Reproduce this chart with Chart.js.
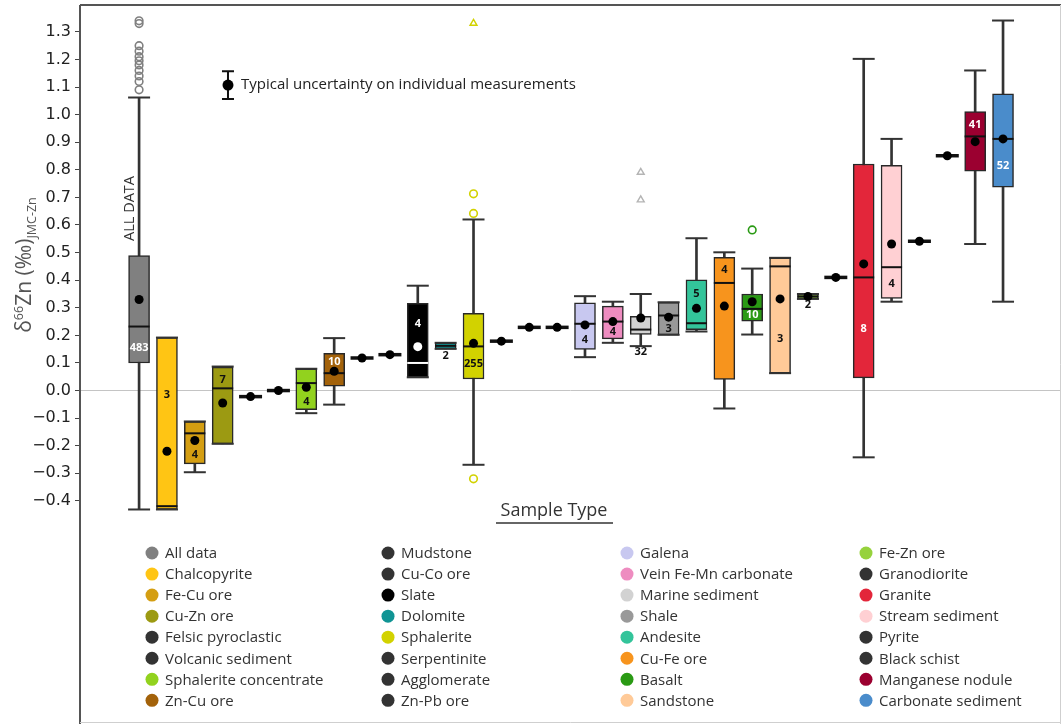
<!DOCTYPE html>
<html>
<head>
<meta charset="utf-8">
<script src="https://cdn.jsdelivr.net/npm/chart.js@4.4.1/dist/chart.umd.min.js"></script>
<style>
  html, body { margin: 0; padding: 0; background: #fff; overflow: hidden; }
  #wrap { width: 1062px; height: 724px; }
  canvas { display: block; }
</style>
</head>
<body>
<div id="wrap"><canvas id="zincChart" width="1062" height="724"></canvas></div>
<script>
// categories, in plotting (and legend) order
const categories = ['All data', 'Chalcopyrite', 'Fe-Cu ore', 'Cu-Zn ore', 'Felsic pyroclastic',
    'Volcanic sediment', 'Sphalerite concentrate', 'Zn-Cu ore', 'Mudstone', 'Cu-Co ore', 'Slate',
    'Dolomite', 'Sphalerite', 'Serpentinite', 'Agglomerate', 'Zn-Pb ore', 'Galena',
    'Vein Fe-Mn carbonate', 'Marine sediment', 'Shale', 'Andesite', 'Cu-Fe ore', 'Basalt',
    'Sandstone', 'Fe-Zn ore', 'Granodiorite', 'Granite', 'Stream sediment', 'Pyrite',
    'Black schist', 'Manganese nodule', 'Carbonate sediment'];

const colors = ['#808080', '#FFC514', '#D49E12', '#9C9A12', '#333333', '#333333', '#92D21E',
    '#A3620A', '#333333', '#333333', '#000000', '#109494', '#D2D200', '#333333', '#333333',
    '#333333', '#C8C8F0', '#EE8CC0', '#D2D2D2', '#999999', '#33C49A', '#F7941D', '#2A9A14',
    '#FFCA98', '#96D23C', '#333333', '#E3263A', '#FFD0D3', '#333333', '#333333', '#9B0030',
    '#4A8CCB'];

// box statistics (null = single measurement, no box)
const q1 = [0.100, -0.431, -0.266, -0.193, null, null, -0.069, 0.016, null, null, 0.048, 0.151,
    0.042, null, null, null, 0.149, 0.187, 0.203, 0.202, 0.221, 0.040, 0.251, 0.063, 0.332, null,
    0.046, 0.334, null, null, 0.795, 0.737];
const q3 = [0.489, 0.192, -0.112, 0.085, null, null, 0.079, 0.135, null, null, 0.316, 0.173,
    0.280, null, null, null, 0.318, 0.306, 0.269, 0.320, 0.401, 0.483, 0.350, 0.481, 0.350, null,
    0.821, 0.816, null, null, 1.011, 1.075];
const median = [0.232, -0.419, -0.155, 0.008, -0.022, 0.000, 0.027, 0.063, 0.118, 0.130, 0.100,
    0.162, 0.160, 0.179, 0.229, 0.229, 0.242, 0.250, 0.221, 0.272, 0.244, 0.390, 0.296, 0.450,
    0.341, 0.410, 0.410, 0.447, 0.541, 0.851, 0.921, 0.912];
const mean = [0.330, -0.220, -0.181, -0.045, -0.022, 0.000, 0.012, 0.070, 0.118, 0.130, 0.159,
    null, 0.171, 0.179, 0.229, 0.229, 0.238, 0.250, 0.263, 0.266, 0.298, 0.306, 0.322, 0.332,
    0.341, 0.410, 0.459, 0.531, 0.541, 0.851, 0.902, 0.912];
const whiskerLow = [-0.431, -0.431, -0.296, -0.193, null, null, -0.082, -0.051, null, null, 0.048,
    0.151, -0.269, null, null, null, 0.121, 0.173, 0.161, 0.202, 0.214, -0.065, 0.203, 0.063,
    0.332, null, -0.242, 0.322, null, null, 0.531, 0.322];
const whiskerHigh = [1.062, 0.192, -0.112, 0.087, null, null, 0.079, 0.190, null, null, 0.380,
    0.173, 0.620, null, null, null, 0.342, 0.322, 0.350, 0.320, 0.552, 0.501, 0.442, 0.481,
    0.350, null, 1.202, 0.912, null, null, 1.160, 1.341];

// number of samples and where the number is written
const counts = [483, 3, 4, 7, null, null, 4, 10, null, null, 4, 2, 255, null, null, null, 4, 4, 32,
    3, 5, 4, 10, 3, 2, null, 8, 4, null, null, 41, 52];
const countAt = [0.156, -0.015, -0.232, 0.040, null, null, -0.040, 0.105, null, null, 0.242, 0.126,
    0.097, null, null, null, 0.184, 0.211, 0.139, 0.224, 0.350, 0.437, 0.274, 0.187, 0.310, null,
    0.224, 0.386, null, null, 0.962, 0.813];

// outliers (category index / value)
const circleCat = [0, 0, 0, 0, 0, 0, 0, 0, 0, 0, 0, 12, 12, 12, 22];
const circleVal = [1.340, 1.330, 1.250, 1.230, 1.210, 1.195, 1.180, 1.160, 1.140, 1.120, 1.090,
    0.713, 0.642, -0.320, 0.582];
const triangleCat = [12, 18, 18];
const triangleVal = [1.331, 0.791, 0.691];

// typical uncertainty marker
const uncX = 3.19;
const uncY = 1.107;
const uncErr = 0.05;

const yTicks = [-0.4, -0.3, -0.2, -0.1, 0, 0.1, 0.2, 0.3, 0.4, 0.5, 0.6, 0.7, 0.8, 0.9, 1.0, 1.1,
    1.2, 1.3];

const idx = categories.map((c, i) => i);
const has = arr => idx.filter(i => arr[i] !== null);

function isDark(hex) {
    const r = parseInt(hex.substr(1, 2), 16), g = parseInt(hex.substr(3, 2), 16), b = parseInt(hex.substr(5, 2), 16);
    return (0.299 * r + 0.587 * g + 0.114 * b) / 255 < 0.52;
}
const colorOf = ctx => (ctx.raw ? colors[ctx.raw.x] : '#888');

// frame, axis title, annotations and legend
const extras = {
    id: 'extras',
    afterDatasetsDraw(chart) {
        const c = chart.ctx, xs = chart.scales.x, ys = chart.scales.y;
        c.save();
        c.textAlign = 'center';
        c.textBaseline = 'middle';
        c.font = 'bold 11px "Open Sans"';
        idx.forEach(i => {
            if (counts[i] === null) return;
            const inside = q1[i] !== null && countAt[i] > q1[i] && countAt[i] < q3[i];
            c.fillStyle = inside && isDark(colors[i]) ? '#fff' : '#111';
            c.fillText(String(counts[i]), xs.getPixelForValue(i), ys.getPixelForValue(countAt[i]));
        });

        // uncertainty bar
        const ux = xs.getPixelForValue(uncX);
        const yt = ys.getPixelForValue(uncY + uncErr), yb = ys.getPixelForValue(uncY - uncErr);
        c.strokeStyle = '#111';
        c.lineWidth = 2;
        c.beginPath();
        c.moveTo(ux, yt); c.lineTo(ux, yb);
        c.moveTo(ux - 6, yt); c.lineTo(ux + 6, yt);
        c.moveTo(ux - 6, yb); c.lineTo(ux + 6, yb);
        c.stroke();
        c.fillStyle = '#000';
        c.beginPath();
        c.arc(ux, ys.getPixelForValue(uncY), 5.5, 0, Math.PI * 2);
        c.fill();
        c.fillStyle = '#222';
        c.textAlign = 'left';
        c.font = '15px "Open Sans"';
        c.fillText('Typical uncertainty on individual measurements', ux + 13, ys.getPixelForValue(uncY));

        // ALL DATA label
        c.save();
        c.translate(xs.getPixelForValue(0) - 9, ys.getPixelForValue(0.66));
        c.rotate(-Math.PI / 2);
        c.textAlign = 'center';
        c.fillStyle = '#333';
        c.font = '14.5px "Open Sans"';
        c.fillText('ALL DATA', 0, 0);
        c.restore();
        c.restore();
    },
    afterDraw(chart) {
        const c = chart.ctx, a = chart.chartArea;
        c.save();
        // frame
        c.lineWidth = 2;
        c.strokeStyle = '#555';
        c.beginPath();
        c.moveTo(a.left, 5); c.lineTo(a.right, 5);
        c.moveTo(a.left, 5); c.lineTo(a.left, chart.height);
        c.stroke();
        c.lineWidth = 1;
        c.strokeStyle = '#cfcfcf';
        c.beginPath();
        c.moveTo(a.right - 0.5, 5); c.lineTo(a.right - 0.5, chart.height);
        c.moveTo(a.left, chart.height - 1.5); c.lineTo(a.right, chart.height - 1.5);
        c.stroke();

        // y axis title: δ66Zn (‰) JMC-Zn
        c.save();
        c.translate(31, 265);
        c.rotate(-Math.PI / 2);
        c.fillStyle = '#555';
        c.textBaseline = 'alphabetic';
        c.textAlign = 'left';
        const big = '21px "Open Sans"', small = '12.5px "Open Sans"';
        c.font = big; const w1 = c.measureText('δ').width, w3 = c.measureText('Zn (‰)').width;
        c.font = small; const w2 = c.measureText('66').width, w4 = c.measureText('JMC-Zn').width;
        let tx = -(w1 + w2 + w3 + w4) / 2;
        c.font = big; c.fillText('δ', tx, 0); tx += w1;
        c.font = small; c.fillText('66', tx, -8); tx += w2;
        c.font = big; c.fillText('Zn (‰)', tx, 0); tx += w3;
        c.font = small; c.fillText('JMC-Zn', tx, 5);
        c.restore();

        // x axis title
        c.fillStyle = '#333';
        c.font = '18px "Open Sans"';
        c.textAlign = 'center';
        c.textBaseline = 'middle';
        c.fillText('Sample Type', 554, 511);
        c.strokeStyle = '#333';
        c.lineWidth = 1.5;
        c.beginPath();
        c.moveTo(496, 523); c.lineTo(613, 523);
        c.stroke();

        // legend, 4 columns of 8
        const colX = [152, 388, 627, 866];
        c.font = '15px "Open Sans"';
        c.textAlign = 'left';
        categories.forEach((name, k) => {
            const x = colX[Math.floor(k / 8)], y = 553 + (k % 8) * 21.05;
            c.fillStyle = colors[k];
            c.beginPath();
            c.arc(x, y, 6.5, 0, Math.PI * 2);
            c.fill();
            c.fillStyle = '#333';
            c.fillText(name, x + 13, y + 1);
        });
        c.restore();
    }
};

new Chart(document.getElementById('zincChart'), {
    type: 'bar',
    data: {
        datasets: [{
            label: 'whiskers',
            data: has(whiskerLow).map(i => ({x: i, y: [whiskerLow[i], whiskerHigh[i]]})),
            backgroundColor: '#333',
            barThickness: 2,
            grouped: false,
            order: 6
        }, {
            label: 'boxes',
            data: has(q1).map(i => ({x: i, y: [q1[i], q3[i]]})),
            backgroundColor: colorOf,
            borderColor: '#282828',
            borderWidth: 1.5,
            borderSkipped: false,
            barThickness: 21,
            grouped: false,
            order: 5
        }, {
            type: 'scatter',
            label: 'caps',
            data: has(whiskerLow).flatMap(i => [{x: i, y: whiskerLow[i]}, {x: i, y: whiskerHigh[i]}]),
            pointStyle: 'line',
            pointRadius: 11,
            pointBorderWidth: 2,
            pointBorderColor: '#333',
            order: 4
        }, {
            type: 'scatter',
            label: 'median',
            data: has(median).map(i => ({x: i, y: median[i]})),
            pointStyle: 'line',
            pointRadius: ctx => (ctx.raw && q1[ctx.raw.x] === null ? 11.5 : 10.5),
            pointBorderWidth: ctx => (ctx.raw && q1[ctx.raw.x] === null ? 3.5 : 2),
            pointBorderColor: ctx => (ctx.raw && colors[ctx.raw.x] === '#000000' ? '#fff' : '#111'),
            order: 3
        }, {
            type: 'scatter',
            label: 'mean',
            data: has(mean).map(i => ({x: i, y: mean[i]})),
            pointStyle: 'circle',
            pointRadius: 4.5,
            pointBorderWidth: 0,
            pointBackgroundColor: ctx => (ctx.raw && colors[ctx.raw.x] === '#000000' ? '#fff' : '#000'),
            order: 2
        }, {
            type: 'scatter',
            label: 'outliers',
            data: circleCat.map((c, k) => ({x: c, y: circleVal[k]})),
            pointStyle: 'circle',
            pointRadius: 3.8,
            pointBorderWidth: 1.6,
            pointBackgroundColor: 'rgba(255,255,255,0)',
            pointBorderColor: colorOf,
            order: 1
        }, {
            type: 'scatter',
            label: 'outliers (triangles)',
            data: triangleCat.map((c, k) => ({x: c, y: triangleVal[k]})),
            pointStyle: 'triangle',
            pointRadius: 4,
            pointBorderWidth: 1.4,
            pointBackgroundColor: 'rgba(255,255,255,0)',
            pointBorderColor: ctx => (ctx.raw && ctx.raw.x === 18 ? '#b4b4b4' : colorOf(ctx)),
            order: 1
        }]
    },
    options: {
        responsive: false,
        animation: false,
        events: [],
        layout: { autoPadding: false, padding: { top: 7, right: 1, bottom: 201, left: 0 } },
        plugins: { legend: { display: false }, tooltip: { enabled: false } },
        scales: {
            x: {
                type: 'linear',
                display: false,
                min: -2.12,
                max: 33.08,
                offset: false
            },
            y: {
                min: -0.48,
                max: 1.39,
                afterBuildTicks: scale => { scale.ticks = yTicks.map(v => ({value: v})); },
                afterFit: s => {
                    s.width = 80;
                    s.paddingTop = 0; s.paddingBottom = 0;
                },
                border: { display: false },
                grid: {
                    drawOnChartArea: true,
                    color: ctx => (ctx.tick && ctx.tick.value === 0 ? '#c4c4c4' : 'rgba(0,0,0,0)'),
                    tickColor: '#444',
                    tickLength: 5,
                    lineWidth: 1
                },
                ticks: {
                    padding: 4,
                    color: '#222',
                    font: { family: '"DejaVu Sans"', size: 16 },
                    callback: v => v.toFixed(1).replace('-', '\u2212')
                }
            }
        }
    },
    plugins: [extras]
});
</script>
</body>
</html>
